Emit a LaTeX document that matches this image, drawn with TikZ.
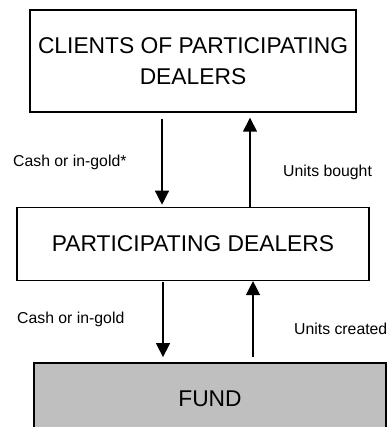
\documentclass[tikz,border=0pt]{standalone}
\usepackage{fontspec}
\setmainfont{Liberation Sans}
\usetikzlibrary{positioning,arrows.meta}

\tikzset{
    party/.style={draw, line width=1.4pt, align=center, font=\fontsize{22.8}{31}\selectfont},
    flow/.style={line width=1.4pt, -{Triangle[length=14pt,width=14pt]}},
    note/.style={font=\fontsize{15.8}{18}\selectfont, anchor=west, inner sep=0pt}
}

\begin{document}
\begin{tikzpicture}[x=1pt,y=-1pt]
        \useasboundingbox (0,0) rectangle (388,427);

        \node (clients) [party, minimum width=326pt, minimum height=102pt] at (193,61) {CLIENTS OF PARTICIPATING\\DEALERS};
        \node (dealers) [party, minimum width=352pt, minimum height=73pt, below=94pt of clients] {PARTICIPATING DEALERS};
        \node (fund) [party, fill=black!25, minimum width=352pt, minimum height=72pt, below=81pt of dealers, xshift=17pt] {FUND};

        \draw[flow, shorten <=6pt, shorten >=2pt] ([xshift=-31pt]clients.south) -- ([xshift=-31pt]dealers.north);
        \draw[flow, shorten >=5pt] ([xshift=57pt]dealers.north) -- ([xshift=57pt]clients.south);
        \draw[flow, shorten <=1pt, shorten >=5pt] ([xshift=-30pt]dealers.south) -- ([xshift=-47pt]fund.north);
        \draw[flow, shorten <=5pt] ([xshift=43pt]fund.north) -- ([xshift=60pt]dealers.south);

        \node (cashTop) [note] at (13,162) {Cash or in-gold*};
        \node (unitsBought) [note] at (283,172) {Units bought};
        \node (cashBottom) [note] at (17,319) {Cash or in-gold};
        \node (unitsCreated) [note] at (294,329) {Units created};
    \end{tikzpicture}
\end{document}
